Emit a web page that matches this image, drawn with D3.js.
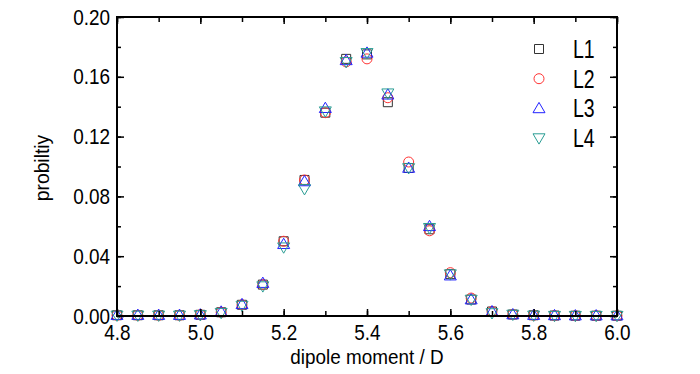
<!DOCTYPE html>
<meta charset="utf-8">
<title>dipole moment distribution</title>
<body>
<script src="https://cdn.jsdelivr.net/npm/d3@7"></script>
<style>
html, body {
    margin: 0;
    background: #fff;
}
svg {
    display: block;
    font-family: "Liberation Sans", Arial, sans-serif;
}
</style>
<svg></svg>
<script>
var width = 700,
    height = 374,
    margin = {top: 17, right: 83, bottom: 58, left: 117};

var moment = [4.80, 4.85, 4.90, 4.95, 5.00, 5.05, 5.10, 5.15, 5.20, 5.25, 5.30, 5.35, 5.40,
              5.45, 5.50, 5.55, 5.60, 5.65, 5.70, 5.75, 5.80, 5.85, 5.90, 5.95, 6.00];

var L1 = [0.0005, 0.0005, 0.0005, 0.0005, 0.0008, 0.0025, 0.0075, 0.021, 0.050, 0.091, 0.136, 0.172, 0.175,
          0.143, 0.099, 0.058, 0.028, 0.011, 0.003, 0.001, 0.0005, 0.0003, 0.0002, 0.0002, 0.0002];
var L2 = [0.0005, 0.0005, 0.0005, 0.0005, 0.0008, 0.0025, 0.0075, 0.021, 0.050, 0.091, 0.136, 0.170, 0.172,
          0.146, 0.103, 0.057, 0.029, 0.012, 0.003, 0.001, 0.0005, 0.0003, 0.0002, 0.0002, 0.0002];
var L3 = [0.0006, 0.0006, 0.0006, 0.0006, 0.0009, 0.0028, 0.0078, 0.022, 0.048, 0.090, 0.139, 0.171, 0.176,
          0.148, 0.099, 0.060, 0.027, 0.011, 0.003, 0.001, 0.0006, 0.0004, 0.0003, 0.0003, 0.0003];
var L4 = [0.0004, 0.0004, 0.0004, 0.0004, 0.0007, 0.0022, 0.0070, 0.020, 0.046, 0.085, 0.137, 0.170, 0.176,
          0.149, 0.099, 0.059, 0.028, 0.011, 0.002, 0.001, 0.0004, 0.0002, 0.0002, 0.0002, 0.0002];

var seriesNames = ["L1", "L2", "L3", "L4"];
var xTicks = [4.8, 5.0, 5.2, 5.4, 5.6, 5.8, 6.0];
var yTicks = [0.00, 0.04, 0.08, 0.12, 0.16, 0.20];

var series = [
    {name: seriesNames[0], values: L1, color: "#333333", shape: "square"},
    {name: seriesNames[1], values: L2, color: "#ff3333", shape: "circle"},
    {name: seriesNames[2], values: L3, color: "#2222ff", shape: "up"},
    {name: seriesNames[3], values: L4, color: "#2a9d94", shape: "down"}
];

var svg = d3.select("svg")
    .attr("width", width)
    .attr("height", height);

var iw = width - margin.left - margin.right,
    ih = height - margin.top - margin.bottom;

var x = d3.scaleLinear().domain([4.8, 6.0]).range([0, iw]);
var y = d3.scaleLinear().domain([0, 0.2]).range([ih, 0]);

var g = svg.append("g")
    .attr("transform", "translate(" + margin.left + "," + margin.top + ")");

// marker path centered on 0,0
function marker(shape) {
    if (shape == "square") return "M-4.5,-4.5H4.5V4.5H-4.5Z";
    if (shape == "circle") return "M5,0A5,5 0 1,1 -5,0A5,5 0 1,1 5,0Z";
    if (shape == "up") return "M0,-6L6,4.3L-6,4.3Z";
    return "M0,6L6,-4.3L-6,-4.3Z";
}

// data
series.forEach(function(s) {
    g.append("g")
        .selectAll("path")
        .data(s.values)
        .enter().append("path")
        .attr("d", marker(s.shape))
        .attr("transform", function(d, i) {
            return "translate(" + x(moment[i]) + "," + y(d) + ")";
        })
        .attr("fill", "none")
        .attr("stroke", s.color)
        .attr("stroke-width", 1);
});

// axes, ticks pointing inward
var xMinor = d3.range(4.8, 6.001, 0.1);
var yMinor = d3.range(0, 0.2001, 0.02);

function styleAxis(sel) {
    sel.select(".domain").remove();
    sel.selectAll("line").attr("stroke", "#000").attr("stroke-width", 1.5);
    sel.selectAll("text")
        .attr("fill", "#000")
        .attr("transform", "scale(0.86,1)")
        .style("font-size", "22px");
}

g.append("g")
    .attr("transform", "translate(0," + ih + ")")
    .call(d3.axisBottom(x).tickValues(xMinor).tickSize(-5).tickFormat(""))
    .call(styleAxis);
g.append("g")
    .attr("transform", "translate(0," + ih + ")")
    .call(d3.axisBottom(x).tickValues(xTicks).tickSize(-7).tickPadding(8).tickFormat(d3.format(".1f")))
    .call(styleAxis);
g.append("g")
    .call(d3.axisTop(x).tickValues(xMinor).tickSize(-5).tickFormat(""))
    .call(styleAxis);
g.append("g")
    .call(d3.axisTop(x).tickValues(xTicks).tickSize(-7).tickFormat(""))
    .call(styleAxis);

g.append("g")
    .call(d3.axisLeft(y).tickValues(yMinor).tickSize(-4).tickFormat(""))
    .call(styleAxis);
g.append("g")
    .call(d3.axisLeft(y).tickValues(yTicks).tickSize(-7).tickPadding(8).tickFormat(d3.format(".2f")))
    .call(styleAxis);
g.append("g")
    .attr("transform", "translate(" + iw + ",0)")
    .call(d3.axisRight(y).tickValues(yMinor).tickSize(-4).tickFormat(""))
    .call(styleAxis);
g.append("g")
    .attr("transform", "translate(" + iw + ",0)")
    .call(d3.axisRight(y).tickValues(yTicks).tickSize(-7).tickFormat(""))
    .call(styleAxis);

g.append("rect")
    .attr("width", iw)
    .attr("height", ih)
    .attr("fill", "none")
    .attr("stroke", "#000")
    .attr("stroke-width", 2);

// labels
svg.append("text")
    .attr("transform", "translate(" + (margin.left + iw / 2) + ",364)scale(0.9,1)")
    .attr("text-anchor", "middle")
    .style("font-size", "21px")
    .text("dipole moment / D");

svg.append("text")
    .attr("transform", "translate(49,168)rotate(-90)scale(0.92,1)")
    .attr("text-anchor", "middle")
    .style("font-size", "21px")
    .text("probiltiy");

// legend
var legend = svg.append("g")
    .selectAll("g")
    .data(series)
    .enter().append("g")
    .attr("transform", function(d, i) {
        return "translate(539," + (49 + i * 29.7) + ")";
    });

legend.append("path")
    .attr("d", function(d) { return marker(d.shape); })
    .attr("fill", "none")
    .attr("stroke", function(d) { return d.color; })
    .attr("stroke-width", 1);

legend.append("text")
    .attr("transform", "translate(34,9)scale(0.78,1)")
    .style("font-size", "25px")
    .text(function(d) { return d.name; });
</script>
